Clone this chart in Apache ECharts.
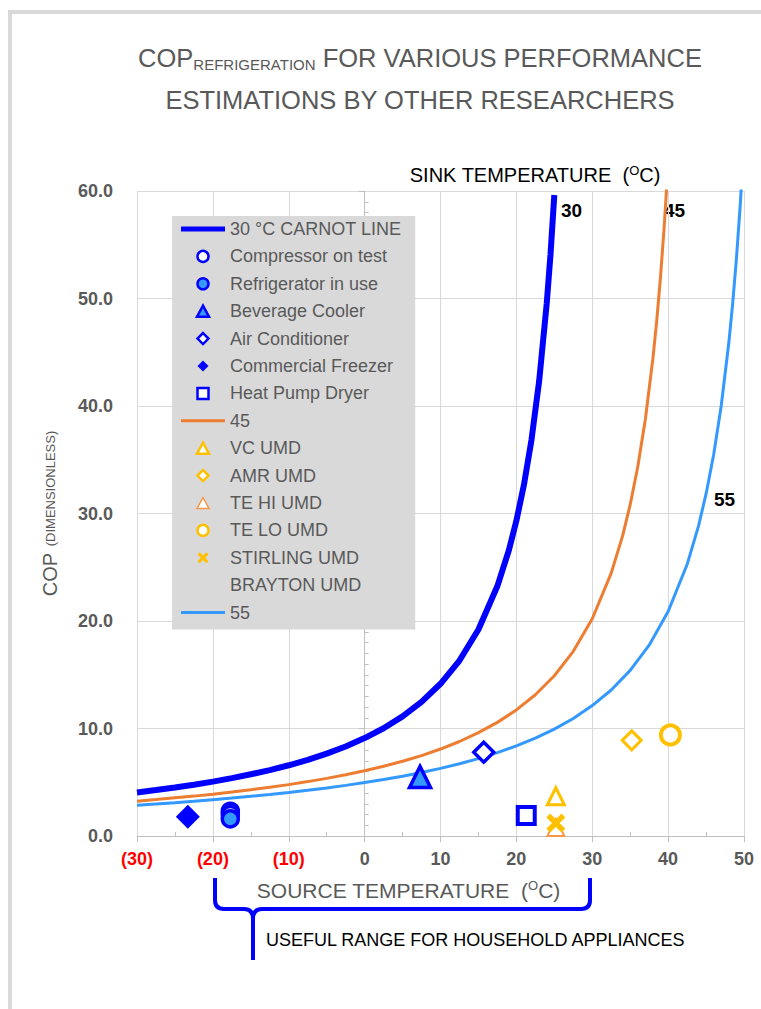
<!DOCTYPE html>
<html><head><meta charset="utf-8">
<script src="https://cdn.jsdelivr.net/npm/echarts@6/dist/echarts.min.js"></script>
<style>html,body{margin:0;padding:0;background:#fff}#c{width:761px;height:1009px}</style>
</head><body><div id="c"></div>
<script>
// ---------- data ----------
const xTickLabels = ['(30)', '(20)', '(10)', '0', '10', '20', '30', '40', '50'];
const yTickLabels = ['0.0', '10.0', '20.0', '30.0', '40.0', '50.0', '60.0'];

// Carnot lines: source temperature (°C) vs COP, sink 30 / 45 / 55 °C
const temp30 = [-30, -27.5, -25, -22.5, -20, -17.5, -15, -12.5, -10, -7.5, -5, -2.5, 0, 2.5, 5, 7.5, 10, 12.5, 15, 17.5, 19, 20, 21, 22, 23, 24, 24.5, 25];
const cop30  = [4.05, 4.27, 4.51, 4.77, 5.06, 5.38, 5.74, 6.13, 6.58, 7.08, 7.66, 8.33, 9.11, 10.02, 11.13, 12.47, 14.16, 16.32, 19.21, 23.25, 26.56, 29.32, 32.68, 36.89, 42.31, 49.53, 54.12, 59.63];
const temp45 = [-30, -27.5, -25, -22.5, -20, -17.5, -15, -12.5, -10, -7.5, -5, -2.5, 0, 2.5, 5, 7.5, 10, 12.5, 15, 17.5, 20, 22.5, 25, 27.5, 30, 32.5, 34, 35, 36, 37, 38, 38.5, 39, 39.5, 40];
const cop45  = [3.24, 3.39, 3.55, 3.71, 3.89, 4.09, 4.30, 4.53, 4.78, 5.06, 5.36, 5.70, 6.07, 6.49, 6.95, 7.48, 8.09, 8.79, 9.61, 10.57, 11.73, 13.14, 14.91, 17.18, 20.21, 24.45, 27.92, 30.82, 34.35, 38.77, 44.45, 47.95, 52.03, 56.85, 62.63];
const temp55 = [-30, -27.5, -25, -22.5, -20, -17.5, -15, -12.5, -10, -7.5, -5, -2.5, 0, 2.5, 5, 7.5, 10, 12.5, 15, 17.5, 20, 22.5, 25, 27.5, 30, 32.5, 35, 37.5, 40, 42.5, 44, 45, 46, 47, 48, 48.5, 49, 49.5, 50];
const cop55  = [2.86, 2.98, 3.10, 3.23, 3.38, 3.53, 3.69, 3.86, 4.05, 4.25, 4.47, 4.71, 4.97, 5.25, 5.56, 5.91, 6.29, 6.72, 7.20, 7.75, 8.38, 9.10, 9.94, 10.93, 12.13, 13.58, 15.41, 17.75, 20.88, 25.25, 28.83, 31.82, 35.46, 40.02, 45.88, 49.48, 53.69, 58.66, 64.63];

// Measured points [source temp, COP]
const compressorOnTest  = [[-17.7, 2.3], [-17.7, 2.0]];
const refrigeratorInUse = [[-17.7, 1.6]];
const beverageCooler    = [[7.3, 5.5]];
const airConditioner    = [[15.7, 7.8]];
const commercialFreezer = [[-23.3, 1.8]];
const heatPumpDryer     = [[21.3, 1.9]];
const vcUmd             = [[25.2, 3.7]];
const amrUmd            = [[35.2, 8.9]];
const teHiUmd           = [[25.2, 0.8]];
const teLoUmd           = [[40.3, 9.4]];
const stirlingUmd       = [[25.2, 1.2]];
const braytonUmd        = [];

// ---------- styling ----------
const FONT = "'Liberation Sans', Arial, sans-serif";
const BLUE = '#0000ff', LBLUE = '#3399ff', ORANGE = '#ed7d31', YELLOW = '#ffc000', TEHI = '#f79646';
const GREY = '#595959';
const X_SHAPE = 'path://M2,0 L5,3 L8,0 L10,2 L7,5 L10,8 L8,10 L5,7 L2,10 L0,8 L3,5 L0,2 Z';
const TRI_ICON = 'path://M6,0L12,11L0,11Z';
const DIA_ICON = 'path://M6,0L12,6L6,12L0,6Z';
const SQ_ICON = 'path://M0,0L11,0L11,11L0,11Z';
const zip = (a, b) => a.map((v, i) => [v, b[i]]);

const chart = echarts.init(document.getElementById('c'), null, {renderer: 'svg'});

function scatter(name, data, symbol, size, fill, border, bw) {
  return {
    name, type: 'scatter', data, symbol, symbolSize: size, z: 5,
    itemStyle: {color: fill, borderColor: border || fill, borderWidth: bw || 0, opacity: 1}
  };
}
function line(name, data, color, width, z) {
  return {name, type: 'line', data, symbol: 'none', smooth: false, z,
          lineStyle: {color, width}, itemStyle: {color}};
}

const xMin = -30, xMax = 50, xStep = 10;
const yMin = 0, yMax = 60, yStep = 10;

const option = {
  backgroundColor: '#ffffff',
  animation: false,
  textStyle: {fontFamily: FONT},
  grid: {left: 137, right: 17, top: 191, bottom: 173, containLabel: false, outerBoundsMode: 'none'},
  xAxis: [{
    type: 'value', min: xMin, max: xMax, interval: xStep, position: 'bottom',
    axisLine: {show: true, lineStyle: {color: '#bfbfbf', width: 1}},
    axisTick: {show: true, length: 6, lineStyle: {color: '#bfbfbf'}},
    splitLine: {show: true, lineStyle: {color: '#d9d9d9', width: 1}},
    axisLabel: {
      margin: 14, fontSize: 18, fontWeight: 'bold', fontFamily: FONT,
      formatter: v => xTickLabels[Math.round((v - xMin) / xStep)],
      color: v => (v < 0 ? '#ff0000' : GREY)
    },
    name: '{a|SOURCE TEMPERATURE  (}{s|O}{a|C)}',
    nameLocation: 'middle', nameGap: 43, nameMoveOverlap: false,
    nameTextStyle: {
      fontSize: 21, color: GREY, fontFamily: FONT, padding: [0, 64, 0, 0],
      rich: {a: {fontSize: 21, color: GREY, fontFamily: FONT},
             s: {fontSize: 13, color: GREY, fontFamily: FONT, padding: [0, 0, 10, 0]}}
    }
  }, {
    type: 'value', min: xMin, max: xMax, interval: xStep, position: 'bottom',
    axisLine: {show: false}, axisLabel: {show: false}, splitLine: {show: false},
    axisTick: {show: false, inside: true},
    minorTick: {show: true, splitNumber: 2, length: 4, lineStyle: {color: '#bfbfbf'}}
  }],
  yAxis: [{
    type: 'value', min: yMin, max: yMax, interval: yStep, position: 'left',
    axisLine: {show: true, lineStyle: {color: '#bfbfbf', width: 1}},
    axisTick: {show: true, length: 6, lineStyle: {color: '#bfbfbf'}},
    splitLine: {show: true, lineStyle: {color: '#d9d9d9', width: 1}},
    axisLabel: {
      margin: 24, fontSize: 18, fontWeight: 'bold', color: GREY, fontFamily: FONT,
      formatter: v => yTickLabels[Math.round((v - yMin) / yStep)]
    },
    name: '{c|COP}  {d|(DIMENSIONLESS)}',
    nameLocation: 'middle', nameRotate: 90, nameGap: 77, nameMoveOverlap: false,
    nameTextStyle: {
      color: GREY, fontFamily: FONT,
      rich: {c: {fontSize: 20, color: GREY, fontFamily: FONT},
             d: {fontSize: 13, color: GREY, fontFamily: FONT}}
    }
  }, {
    type: 'value', min: yMin, max: yMax, interval: yStep, position: 'left',
    axisLine: {show: false}, axisLabel: {show: false}, splitLine: {show: false},
    axisTick: {show: false, inside: true},
    minorTick: {show: true, splitNumber: 10, length: 4, lineStyle: {color: '#bfbfbf'}}
  }],
  legend: {
    orient: 'vertical', left: 172, top: 216, backgroundColor: '#d9d9d9',
    padding: [4, 14, 8, 9], itemWidth: 44, itemHeight: 11, itemGap: 9.4,
    selectedMode: false,
    textStyle: {fontSize: 18, color: GREY, fontFamily: FONT, lineHeight: 18},
    itemStyle: {borderWidth: 2.5},
    data: [
      {name: '30 °C CARNOT LINE', icon: 'path://M0,0L44,0L44,5L0,5Z', itemStyle: {borderWidth: 0}},
      'Compressor on test', 'Refrigerator in use',
      {name: 'Beverage Cooler', icon: TRI_ICON},
      {name: 'Air Conditioner', icon: DIA_ICON},
      {name: 'Commercial Freezer', icon: DIA_ICON, itemStyle: {borderWidth: 0}},
      {name: 'Heat Pump Dryer', icon: SQ_ICON},
      {name: '45', icon: 'path://M0,0L44,0L44,3L0,3Z', itemStyle: {borderWidth: 0}},
      {name: 'VC UMD', icon: TRI_ICON},
      {name: 'AMR UMD', icon: DIA_ICON},
      {name: 'TE HI UMD', icon: TRI_ICON, itemStyle: {borderWidth: 1.5}},
      'TE LO UMD',
      {name: 'STIRLING UMD', itemStyle: {borderWidth: 0}},
      {name: 'BRAYTON UMD', icon: 'none'},
      {name: '55', icon: 'path://M0,0L44,0L44,3L0,3Z', itemStyle: {borderWidth: 0}}
    ]
  },
  series: [
    line('30 °C CARNOT LINE', zip(temp30, cop30), BLUE, 6, 3),
    scatter('Compressor on test', compressorOnTest, 'circle', 16, '#ffffff', BLUE, 3.5),
    scatter('Refrigerator in use', refrigeratorInUse, 'circle', 16, LBLUE, BLUE, 3.5),
    scatter('Beverage Cooler', beverageCooler, 'triangle', 21, LBLUE, BLUE, 3.5),
    scatter('Air Conditioner', airConditioner, 'diamond', 20, '#ffffff', BLUE, 3.5),
    scatter('Commercial Freezer', commercialFreezer, 'diamond', 24, BLUE),
    scatter('Heat Pump Dryer', heatPumpDryer, 'rect', 17, '#ffffff', BLUE, 4),
    line('45', zip(temp45, cop45), ORANGE, 3, 2),
    scatter('VC UMD', vcUmd, 'triangle', 17, '#ffffff', YELLOW, 3),
    scatter('AMR UMD', amrUmd, 'diamond', 19, '#ffffff', YELLOW, 3),
    scatter('TE HI UMD', teHiUmd, 'triangle', 17, '#ffffff', TEHI, 2),
    scatter('TE LO UMD', teLoUmd, 'circle', 19, '#ffffff', YELLOW, 4),
    scatter('STIRLING UMD', stirlingUmd, X_SHAPE, 19, YELLOW),
    {name: 'BRAYTON UMD', type: 'scatter', data: braytonUmd, symbol: 'none', itemStyle: {color: 'transparent'}},
    line('55', zip(temp55, cop55), LBLUE, 3, 2)
  ],
  graphic: [
    {type: 'rect', silent: true, z: -10, shape: {x: 10, y: 12, width: 900, height: 1100},
     style: {fill: 'none', stroke: '#d9d9d9', lineWidth: 4}},
    {type: 'text', x: 420, y: 37, style: {
      text: '{a|COP}{b|REFRIGERATION}{a| FOR VARIOUS PERFORMANCE}\n{a|ESTIMATIONS BY OTHER RESEARCHERS}',
      align: 'center', verticalAlign: 'top',
      rich: {
        a: {fontSize: 25.5, lineHeight: 42, fill: GREY, fontFamily: FONT, verticalAlign: 'middle'},
        b: {fontSize: 15, lineHeight: 42, fill: GREY, fontFamily: FONT, verticalAlign: 'middle', padding: [13, 0, 0, 0]}
      }}},
    {type: 'text', x: 535, y: 175, style: {
      text: '{a|SINK TEMPERATURE  (}{s|O}{a|C)}', align: 'center', verticalAlign: 'middle',
      rich: {
        a: {fontSize: 20, fill: '#000', fontFamily: FONT, verticalAlign: 'middle'},
        s: {fontSize: 13, fill: '#000', fontFamily: FONT, verticalAlign: 'middle', padding: [0, 0, 10, 0]}
      }}},
    {type: 'text', x: 561, y: 210, style: {text: '30', fontSize: 19, fontWeight: 'bold', fill: '#000', fontFamily: FONT, verticalAlign: 'middle'}},
    {type: 'text', x: 664, y: 210, style: {text: '45', fontSize: 19, fontWeight: 'bold', fill: '#000', fontFamily: FONT, verticalAlign: 'middle'}},
    {type: 'text', x: 714, y: 499, style: {text: '55', fontSize: 19, fontWeight: 'bold', fill: '#000', fontFamily: FONT, verticalAlign: 'middle'}},
    // brace
    {type: 'line', shape: {x1: 215, y1: 878, x2: 215, y2: 900}, style: {stroke: BLUE, lineWidth: 4}},
    {type: 'bezierCurve', shape: {x1: 215, y1: 900, cpx1: 215, cpy1: 909, x2: 224, y2: 909}, style: {stroke: BLUE, lineWidth: 4, fill: 'none'}},
    {type: 'line', shape: {x1: 224, y1: 909, x2: 244, y2: 909}, style: {stroke: BLUE, lineWidth: 4}},
    {type: 'bezierCurve', shape: {x1: 244, y1: 909, cpx1: 253, cpy1: 909, x2: 253, y2: 919}, style: {stroke: BLUE, lineWidth: 4, fill: 'none'}},
    {type: 'bezierCurve', shape: {x1: 262, y1: 909, cpx1: 253, cpy1: 909, x2: 253, y2: 919}, style: {stroke: BLUE, lineWidth: 4, fill: 'none'}},
    {type: 'line', shape: {x1: 262, y1: 909, x2: 581, y2: 909}, style: {stroke: BLUE, lineWidth: 4}},
    {type: 'bezierCurve', shape: {x1: 581, y1: 909, cpx1: 590, cpy1: 909, x2: 590, y2: 900}, style: {stroke: BLUE, lineWidth: 4, fill: 'none'}},
    {type: 'line', shape: {x1: 590, y1: 900, x2: 590, y2: 878}, style: {stroke: BLUE, lineWidth: 4}},
    {type: 'line', shape: {x1: 253, y1: 917, x2: 253, y2: 960}, style: {stroke: BLUE, lineWidth: 4}},
    {type: 'text', x: 266, y: 940, style: {text: 'USEFUL RANGE FOR HOUSEHOLD APPLIANCES', fontSize: 18, fill: '#000', fontFamily: FONT, verticalAlign: 'middle'}}
  ]
};
chart.setOption(option);
</script>
</body></html>
